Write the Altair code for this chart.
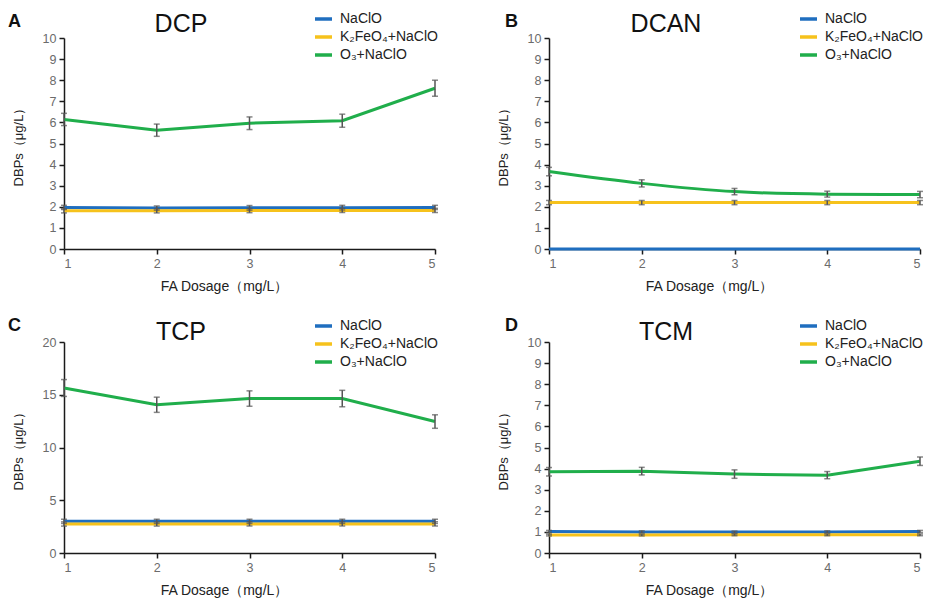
import altair as alt
import pandas as pd

FONT = "Liberation Sans, Arial, sans-serif"

x_vals = [1, 2, 3, 4, 5]
series_names = ["NaClO", "K₂FeO₄+NaClO", "O₃+NaClO"]
series_colors = ["#1f6ebf", "#f6c21c", "#20ae4b"]

# DCP
dcp_naclo = [1.97, 1.94, 1.95, 1.96, 1.97]
dcp_naclo_err = [0.10, 0.10, 0.11, 0.11, 0.10]
dcp_k2 = [1.81, 1.81, 1.82, 1.83, 1.83]
dcp_k2_err = [0.10, 0.10, 0.10, 0.10, 0.10]
dcp_o3 = [6.14, 5.63, 5.96, 6.08, 7.62]
dcp_o3_err = [0.29, 0.29, 0.30, 0.31, 0.38]

# DCAN
dcan_naclo = [0.0, 0.0, 0.0, 0.0, 0.0]
dcan_naclo_err = [0.0, 0.0, 0.0, 0.0, 0.0]
dcan_k2 = [2.20, 2.20, 2.20, 2.20, 2.20]
dcan_k2_err = [0.10, 0.10, 0.10, 0.10, 0.10]
dcan_o3 = [3.67, 3.11, 2.72, 2.60, 2.58]
dcan_o3_err = [0.20, 0.17, 0.15, 0.14, 0.15]

# TCP
tcp_naclo = [3.00, 3.00, 3.00, 3.00, 3.00]
tcp_naclo_err = [0.20, 0.20, 0.20, 0.20, 0.20]
tcp_k2 = [2.75, 2.75, 2.76, 2.76, 2.76]
tcp_k2_err = [0.20, 0.20, 0.20, 0.20, 0.20]
tcp_o3 = [15.64, 14.05, 14.64, 14.64, 12.46]
tcp_o3_err = [0.80, 0.72, 0.73, 0.78, 0.64]

# TCM
tcm_naclo = [1.02, 1.00, 0.99, 1.00, 1.02]
tcm_naclo_err = [0.05, 0.05, 0.05, 0.05, 0.05]
tcm_k2 = [0.85, 0.85, 0.86, 0.86, 0.86]
tcm_k2_err = [0.04, 0.04, 0.04, 0.04, 0.04]
tcm_o3 = [3.85, 3.88, 3.74, 3.69, 4.35]
tcm_o3_err = [0.20, 0.18, 0.20, 0.17, 0.20]

W, H = 371, 211


def build_df(vals, errs):
    rows = []
    for name, v, e in zip(series_names, vals, errs):
        for x, yv, ye in zip(x_vals, v, e):
            rows.append({"x": x, "v": yv, "lo": yv - ye, "hi": yv + ye, "e": ye, "s": name})
    return pd.DataFrame(rows)


def panel(name, letter, vals, errs, ymax, ystep, letter_x, title_y, legend_y, interp):
    df = build_df(vals, errs)
    xenc = alt.X(
        "x:Q",
        scale=alt.Scale(domain=[1, 5], nice=False, zero=False),
        axis=alt.Axis(
            values=x_vals, format="d", title="FA Dosage（mg/L）", grid=False,
            tickSize=5, labelPadding=3, titlePadding=10, titleX=160, titleFontSize=14,
        ),
    )
    yscale = alt.Scale(domain=[0, ymax], nice=False)
    yaxis = alt.Axis(
        values=list(range(0, ymax + 1, ystep)), grid=False, title="DBPs（μg/L）",
        tickSize=5, labelPadding=3, titlePadding=17,
    )
    legend = alt.Legend(
        orient="none", legendX=249, legendY=legend_y, title=None,
        symbolType="stroke", symbolStrokeWidth=3.5, symbolSize=289,
        labelFontSize=14, labelFont=FONT, labelColor="#222", labelOffset=6,
        rowPadding=0, labelLimit=200,
    )
    lines = alt.Chart(df).mark_line(strokeWidth=3, interpolate=interp).encode(
        x=xenc,
        y=alt.Y("v:Q", scale=yscale, axis=yaxis),
        color=alt.Color("s:N", scale=alt.Scale(domain=series_names, range=series_colors), legend=legend),
    )
    errs_chart = alt.Chart(df[df["e"] > 0]).mark_errorbar(
        ticks=True, size=6, thickness=1.5, color="#555555"
    ).encode(
        x=xenc,
        y=alt.Y("lo:Q", scale=yscale, axis=yaxis),
        y2="hi:Q",
    )
    one = pd.DataFrame({"k": [0]})
    title_t = alt.Chart(one).mark_text(
        text=name, fontSize=25, font=FONT, color="#111", align="center", baseline="alphabetic"
    ).encode(x=alt.value(117), y=alt.value(title_y))
    letter_t = alt.Chart(one).mark_text(
        text=letter, fontSize=18, fontWeight="bold", font=FONT, color="#111",
        align="left", baseline="alphabetic"
    ).encode(x=alt.value(letter_x), y=alt.value(-11))
    return alt.layer(lines, errs_chart, title_t, letter_t).properties(width=W, height=H)


pA = panel("DCP", "A", [dcp_naclo, dcp_k2, dcp_o3], [dcp_naclo_err, dcp_k2_err, dcp_o3_err],
           10, 1, -56, -6, -29.5, "linear")
pB = panel("DCAN", "B", [dcan_naclo, dcan_k2, dcan_o3], [dcan_naclo_err, dcan_k2_err, dcan_o3_err],
           10, 1, -44, -6, -29.5, "monotone")
pC = panel("TCP", "C", [tcp_naclo, tcp_k2, tcp_o3], [tcp_naclo_err, tcp_k2_err, tcp_o3_err],
           20, 5, -56, -2, -26.5, "linear")
pD = panel("TCM", "D", [tcm_naclo, tcm_k2, tcm_o3], [tcm_naclo_err, tcm_k2_err, tcm_o3_err],
           10, 1, -44, -2, -26.5, "linear")

chart = alt.concat(
    pA, pB, pC, pD, columns=2, spacing={"row": 93, "column": 114}, bounds="flush"
).resolve_legend(color="independent").properties(
    padding={"left": 0, "top": 0, "right": 0, "bottom": 0}
).configure_view(strokeWidth=0).configure_axis(
    domainColor="#1a1a1a", domainWidth=1.5, tickColor="#1a1a1a", tickWidth=1.5,
    labelColor="#6b6b6b", labelFontSize=12.5, labelFont=FONT,
    titleColor="#222", titleFontSize=13, titleFontWeight="normal", titleFont=FONT,
)

chart.save("out.html", embed_options={"renderer": "svg", "actions": False})
